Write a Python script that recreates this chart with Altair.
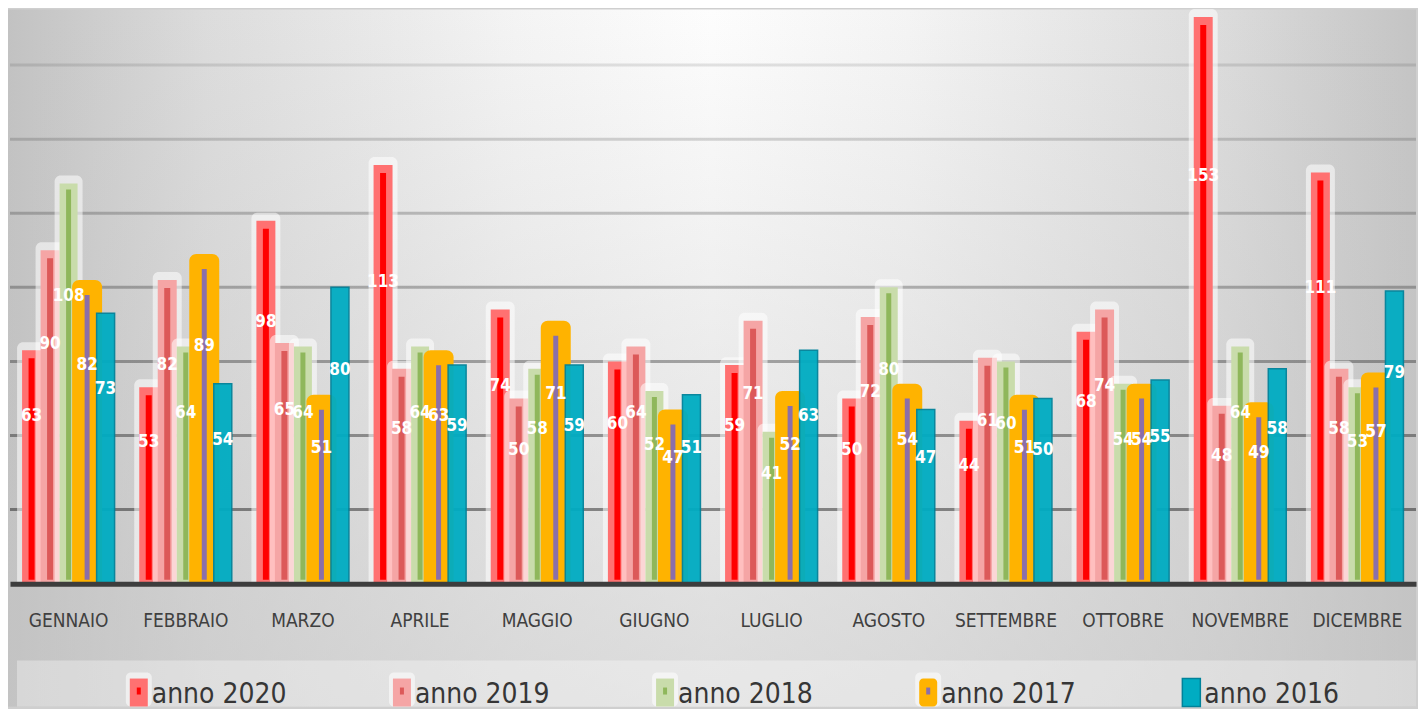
import altair as alt
import pandas as pd

# ---------------- data ----------------
months = ["GENNAIO", "FEBBRAIO", "MARZO", "APRILE", "MAGGIO", "GIUGNO",
          "LUGLIO", "AGOSTO", "SETTEMBRE", "OTTOBRE", "NOVEMBRE", "DICEMBRE"]
years = ["2020", "2019", "2018", "2017", "2016"]
anno_2020 = [63, 53, 98, 113, 74, 60, 59, 50, 44, 68, 153, 111]
anno_2019 = [90, 82, 65, 58, 50, 64, 71, 72, 61, 74, 48, 58]
anno_2018 = [108, 64, 64, 64, 58, 52, 41, 80, 60, 54, 64, 53]
anno_2017 = [82, 89, 51, 63, 71, 47, 52, 54, 51, 54, 49, 57]
anno_2016 = [73, 54, 80, 59, 59, 51, 63, 47, 50, 55, 58, 79]
grid_ticks = [20, 40, 60, 80, 100, 120, 140]

series = {"2020": anno_2020, "2019": anno_2019, "2018": anno_2018,
          "2017": anno_2017, "2016": anno_2016}
rows = []
for y in years:
    for m, v in zip(months, series[y]):
        rows.append({"month": m, "year": y, "value": v})
df = pd.DataFrame(rows)
legend_df = pd.DataFrame({"ly": years})
one_row = pd.DataFrame({"k": [0]})
grid_df = pd.DataFrame({"tick": grid_ticks})

# ---------------- styles ----------------
FONT = "Liberation Sans Narrow, DejaVu Sans Condensed, Arial Narrow, sans-serif"
W, H = 1408, 575
TOTAL_H = 698
STYLE = {
    "2020": dict(fill="#ff7171", stripe="#ff0000", glow=True, size=19, sw=6, soff=8, radius=0),
    "2019": dict(fill="#f5a5a5", stripe="#dc5959", glow=True, size=19, sw=6, soff=8, radius=0),
    "2018": dict(fill="#c9dcab", stripe="#8fb75b", glow=True, size=18, sw=5, soff=6, radius=0),
    "2017": dict(fill="#ffb300", stripe="#8b6fa9", glow=False, size=30, sw=5, soff=15, radius=7),
    "2016": dict(fill="#00acc2", stripe=None, glow=False, size=18, sw=0, soff=0, radius=0,
                 stroke="#00829a"),
}

x_enc = alt.X("month:N", sort=months,
              scale=alt.Scale(domain=months, paddingInner=0.21, paddingOuter=0.105),
              axis=alt.Axis(title=None, ticks=False, grid=False, domainColor="#3d3d3d",
                            domainWidth=5, labelFont=FONT, labelFontSize=19,
                            labelColor="#404040", labelPadding=28, labelAngle=0,
                            labelOverlap=False, zindex=1))
xo_enc = alt.XOffset("year:N", scale=alt.Scale(domain=years, paddingInner=0, paddingOuter=0))
y_scale = alt.Scale(domain=[0, 155], nice=False, zero=True)
y_enc = alt.Y("value:Q", scale=y_scale, axis=None)

# ---------------- background ----------------
h_grad = {"gradient": "linear", "x1": 0, "y1": 0, "x2": 1, "y2": 0,
          "stops": [{"offset": 0, "color": "#c2c2c2"},
                    {"offset": 0.14, "color": "#dcdcdc"},
                    {"offset": 0.36, "color": "#f4f4f4"},
                    {"offset": 0.5, "color": "#fdfdfd"},
                    {"offset": 0.64, "color": "#f4f4f4"},
                    {"offset": 0.86, "color": "#dcdcdc"},
                    {"offset": 1, "color": "#c4c4c4"}]}
v_grad = {"gradient": "linear", "x1": 0, "y1": 0, "x2": 0, "y2": 1,
          "stops": [{"offset": 0, "color": "rgba(196,196,196,0)"},
                    {"offset": 1, "color": "rgba(196,196,196,0.6)"}]}

bg_h = alt.Chart(one_row).mark_rect(fill=h_grad).encode(
    x=alt.value(-2), x2=alt.value(W), y=alt.value(0), y2=alt.value(TOTAL_H))
bg_v = alt.Chart(one_row).mark_rect(fill=v_grad).encode(
    x=alt.value(-2), x2=alt.value(W), y=alt.value(0), y2=alt.value(TOTAL_H))

grid = alt.Chart(grid_df).mark_rule(color="black", strokeWidth=3).encode(
    y=alt.Y("tick:Q", scale=y_scale, axis=None),
    x=alt.value(0), x2=alt.value(W),
    opacity=alt.Opacity("tick:Q", scale=alt.Scale(domain=[20, 140], range=[0.42, 0.1]),
                        legend=None))

# ---------------- bars ----------------
bar_layers = []
for yr in years:
    s = STYLE[yr]
    base = alt.Chart(df).transform_filter(alt.datum.year == yr)
    enc = dict(x=x_enc, xOffset=xo_enc, y=y_enc, y2=alt.datum(0))
    if s["glow"]:
        bar_layers.append(base.mark_bar(size=s["size"] + 10, color="white", opacity=0.55,
                                        cornerRadiusTopLeft=6, cornerRadiusTopRight=6,
                                        yOffset=-8).encode(**enc))
    kw = dict(size=s["size"], color=s["fill"])
    if s["radius"]:
        kw.update(cornerRadiusTopLeft=s["radius"], cornerRadiusTopRight=s["radius"])
    if "stroke" in s:
        kw.update(stroke=s["stroke"], strokeWidth=1.5, opacity=0.95)
    bar_layers.append(base.mark_bar(**kw).encode(**enc))
    if s["stripe"]:
        bar_layers.append(base.mark_bar(size=s["sw"], color=s["stripe"],
                                        yOffset=s["soff"], y2Offset=-4).encode(**enc))

labels = alt.Chart(df).transform_calculate(lpos="datum.value * 0.72").mark_text(
    color="white", font=FONT, fontSize=17, fontWeight="bold", baseline="middle",
    align="center").encode(
    x=x_enc, xOffset=xo_enc,
    y=alt.Y("lpos:Q", scale=y_scale, axis=None),
    text=alt.Text("value:Q"))

main = alt.layer(bg_h, bg_v, grid, *bar_layers, labels)

# ---------------- legend ----------------
lx = alt.X("ly:N", scale=alt.Scale(domain=years, paddingInner=0, paddingOuter=0.1716),
           axis=None)
band = alt.Chart(one_row).mark_rect(fill="white", opacity=0.33).encode(
    x=alt.value(7), x2=alt.value(W), y=alt.value(652), y2=alt.value(TOTAL_H))
leg_layers = [band]
SYM_DX = -48
for yr in years:
    s = STYLE[yr]
    lb = alt.Chart(legend_df).transform_filter(alt.datum.ly == yr)
    if s["glow"] or yr == "2017":
        leg_layers.append(lb.mark_bar(size=26, color="white", opacity=0.55, cornerRadius=5,
                                      xOffset=SYM_DX).encode(
            x=lx, y=alt.value(664), y2=alt.value(TOTAL_H)))
    kw = dict(size=18, color=s["fill"], xOffset=SYM_DX)
    if s["radius"]:
        kw.update(cornerRadius=4)
    if "stroke" in s:
        kw.update(stroke=s["stroke"], strokeWidth=1.5)
    leg_layers.append(lb.mark_bar(**kw).encode(x=lx, y=alt.value(670), y2=alt.value(TOTAL_H)))
    if s["stripe"]:
        leg_layers.append(lb.mark_bar(size=4, color=s["stripe"], xOffset=SYM_DX).encode(
            x=lx, y=alt.value(679), y2=alt.value(686)))

leg_text = alt.Chart(legend_df).transform_calculate(label="'anno ' + datum.ly").mark_text(
    align="left", baseline="alphabetic", dx=-35, font=FONT, fontSize=28,
    color="#363636").encode(x=lx, y=alt.value(694), text=alt.Text("label:N"))
leg_layers.append(leg_text)
legend = alt.layer(*leg_layers)

chart = alt.layer(main, legend).resolve_scale(x="independent").properties(
    width=W, height=H, padding=0, background="#cfcfcf"
).configure_view(stroke=None)

chart.save("out.html", embed_options={"renderer": "svg", "actions": False})
